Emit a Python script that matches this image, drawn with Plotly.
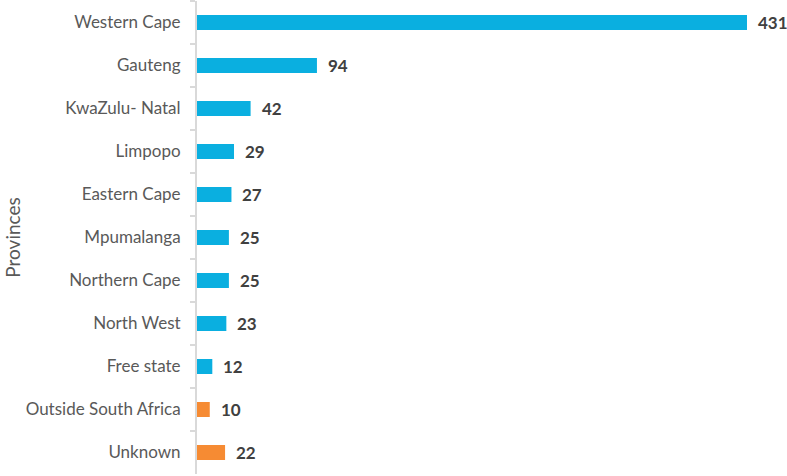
import plotly.graph_objects as go

provinces = ["Western Cape", "Gauteng", "KwaZulu- Natal", "Limpopo", "Eastern Cape",
             "Mpumalanga", "Northern Cape", "North West", "Free state",
             "Outside South Africa", "Unknown"]
counts = [431, 94, 42, 29, 27, 25, 25, 23, 12, 10, 22]
bar_colors = ["#0AAFE0"] * 9 + ["#F68B33"] * 2

fig = go.Figure(go.Bar(
    x=counts, y=provinces, orientation="h",
    marker=dict(color=bar_colors, line=dict(width=0)),
    hoverinfo="x+y",
))

for p, c in zip(provinces, counts):
    fig.add_annotation(x=c, y=p, text=f"<b>{c}</b>", showarrow=False,
                       xanchor="left", xshift=9,
                       font=dict(family="Lato", size=17, color="#404040"))

fig.update_layout(
    width=787, height=476,
    margin=dict(l=197, r=3, t=1, b=2, autoexpand=False),
    plot_bgcolor="white", paper_bgcolor="white",
    bargap=0.65, showlegend=False,
    font=dict(family="Lato", size=17, color="#595959"),
)
fig.update_xaxes(range=[0, 460], visible=False)
fig.update_yaxes(
    autorange="reversed", showline=True, linecolor="#D9D9D9", linewidth=2,
    ticks="outside", tickson="boundaries", ticklen=5, tickcolor="#D9D9D9", tickwidth=2,
    ticklabelstandoff=11, showgrid=False, automargin=False,
    title=dict(text="Provinces", standoff=0, font=dict(size=19, color="#595959")),
)

fig.write_html("out.html", config={"displayModeBar": False},
               post_script="document.body.style.margin='0';")
